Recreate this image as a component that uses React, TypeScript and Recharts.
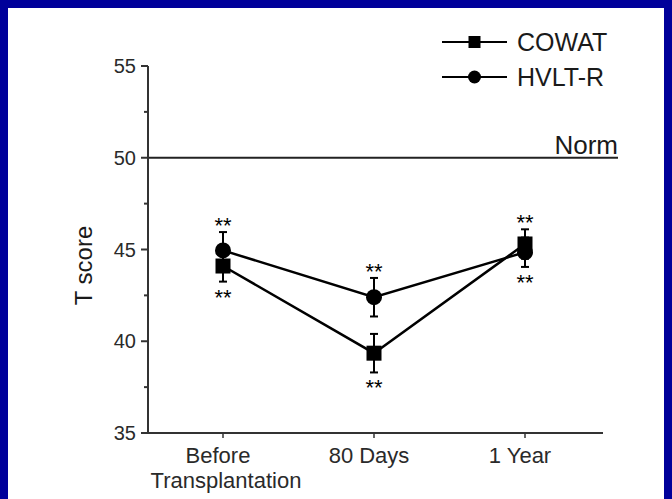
import React from 'react';
import { LineChart, Line, XAxis, YAxis, ErrorBar, ReferenceLine, LabelList } from 'recharts';

// values (T scores, mean ± error)
const categories = ['Before\nTransplantation', '80 Days', '1 Year'];
const seriesNames = ['COWAT', 'HVLT-R'];
const cowatValues = [44.1, 39.35, 45.3];
const cowatErrors = [0.85, 1.05, 0.8];
const cowatStars = ['below', 'below', 'above'];
const hvltValues = [44.95, 42.4, 44.85];
const hvltErrors = [1.0, 1.05, 0.8];
const hvltStars = ['above', 'above', 'below'];
const yTicks = [35, 37.5, 40, 42.5, 45, 47.5, 50, 52.5, 55];
const normValue = 50;

const data = categories.map((label, i) => ({
  label,
  cowat: cowatValues[i],
  cowatErr: cowatErrors[i],
  hvlt: hvltValues[i],
  hvltErr: hvltErrors[i],
}));

const FONT = '"Liberation Sans", Arial, Helvetica, sans-serif';
const INK = '#1a1a1a';
const PLOT_H = 367;
const PX_PER_UNIT = PLOT_H / (55 - 35);

const SquareDot = (props: any) => {
  const { cx, cy, index } = props;
  if (cx == null || cy == null) return null;
  return <rect key={`sq-${index}`} x={cx - 7.5} y={cy - 7.5} width={15} height={15} fill="#000" />;
};

const CircleDot = (props: any) => {
  const { cx, cy, index } = props;
  if (cx == null || cy == null) return null;
  return <circle key={`ci-${index}`} cx={cx} cy={cy} r={8} fill="#000" />;
};

const starLabel = (sides: string[], errs: number[]) => (props: any) => {
  const { x, y, index } = props;
  if (x == null || y == null) return null;
  const dist = errs[index] * PX_PER_UNIT + 11;
  const cy = sides[index] === 'above' ? y - dist : y + dist;
  return (
    <text key={`st-${index}`} x={x} y={cy + 12} textAnchor="middle" fontSize={22} fontFamily={FONT} fill="#000">
      **
    </text>
  );
};

const YTick = (props: any) => {
  const { x, y, payload } = props;
  const v = payload.value;
  const major = v % 5 === 0;
  return (
    <g>
      <line x1={x - (major ? 7 : 4)} y1={y} x2={x} y2={y} stroke="#333" strokeWidth={2} />
      {major && (
        <text x={x - 12} y={y + 7} textAnchor="end" fontSize={20} fontFamily={FONT} fill="#2a2a2a">
          {v}
        </text>
      )}
    </g>
  );
};

const XTick = (props: any) => {
  const { x, y, payload } = props;
  const lines = String(payload.value).split('\n');
  return (
    <text x={x} y={y} textAnchor="middle" fontSize={22} fontFamily={FONT} fill="#2a2a2a">
      {lines.map((ln, i) => (
        <tspan key={i} x={i === 0 ? x - 5 : x + 3} dy={i === 0 ? 25 : 25}>
          {ln}
        </tspan>
      ))}
    </text>
  );
};

const NormLine = (props: any) => {
  const { x1, y1, x2, y2 } = props;
  const end = x2 + 15;
  return (
    <g>
      <line x1={x1} y1={y1} x2={end} y2={y2} stroke="#222" strokeWidth={2} />
      <text x={end} y={y1 - 4} textAnchor="end" fontSize={26} fontFamily={FONT} fill={INK}>
        Norm
      </text>
    </g>
  );
};

const LegendRow = ({ shape, name, top }: { shape: string; name: string; top: number }) => (
  <div style={{ position: 'absolute', left: 434, top: top - 15, height: 30, display: 'flex', alignItems: 'center' }}>
    <svg width={65} height={30}>
      <line x1={0} y1={15} x2={65} y2={15} stroke="#000" strokeWidth={2} />
      {shape === 'square' ? (
        <rect x={26.5} y={9} width={12} height={12} fill="#000" />
      ) : (
        <circle cx={32.5} cy={15} r={6.5} fill="#000" />
      )}
    </svg>
    <span style={{ marginLeft: 10, fontSize: 25, fontFamily: FONT, color: INK, lineHeight: '30px' }}>{name}</span>
  </div>
);

export default function App() {
  return (
    <div style={{ position: 'absolute', left: 0, top: 0, width: 672, height: 499, background: '#00009a', overflow: 'hidden' }}>
      <div style={{ position: 'absolute', left: 8, top: 8, width: 656, height: 500, background: '#fff' }}>
        <LineChart width={656} height={491} data={data} margin={{ top: 58, right: 61, bottom: 0, left: 0 }}>
          <XAxis
            dataKey="label"
            padding={{ left: 75, right: 78 }}
            height={66}
            tickSize={5}
            tickMargin={0}
            tick={<XTick />}
            axisLine={{ stroke: '#333', strokeWidth: 2 }}
            tickLine={{ stroke: '#333', strokeWidth: 1.5 }}
            interval={0}
          />
          <YAxis
            type="number"
            domain={[35, 55]}
            ticks={yTicks}
            width={140}
            tickSize={0}
            tickMargin={0}
            tickLine={false}
            tick={<YTick />}
            axisLine={{ stroke: '#333', strokeWidth: 2 }}
            interval={0}
            label={({ viewBox }: any) => (
              <text
                x={viewBox.x + 75}
                y={viewBox.y + viewBox.height / 2 + 16}
                transform={`rotate(-90, ${viewBox.x + 75}, ${viewBox.y + viewBox.height / 2 + 16})`}
                textAnchor="middle"
                dominantBaseline="central"
                fontSize={24}
                fontFamily={FONT}
                fill={INK}
              >
                T score
              </text>
            )}
          />
          <ReferenceLine y={normValue} shape={<NormLine />} />
          <Line
            dataKey="cowat"
            name={seriesNames[0]}
            stroke="#000"
            strokeWidth={2.5}
            dot={<SquareDot />}
            activeDot={false}
            isAnimationActive={false}
          >
            <ErrorBar dataKey="cowatErr" direction="y" width={4} stroke="#000" strokeWidth={2} />
            <LabelList dataKey="cowat" content={starLabel(cowatStars, cowatErrors)} />
          </Line>
          <Line
            dataKey="hvlt"
            name={seriesNames[1]}
            stroke="#000"
            strokeWidth={2.5}
            dot={<CircleDot />}
            activeDot={false}
            isAnimationActive={false}
          >
            <ErrorBar dataKey="hvltErr" direction="y" width={4} stroke="#000" strokeWidth={2} />
            <LabelList dataKey="hvlt" content={starLabel(hvltStars, hvltErrors)} />
          </Line>
        </LineChart>
        <LegendRow shape="square" name={seriesNames[0]} top={34} />
        <LegendRow shape="circle" name={seriesNames[1]} top={69} />
      </div>
    </div>
  );
}
